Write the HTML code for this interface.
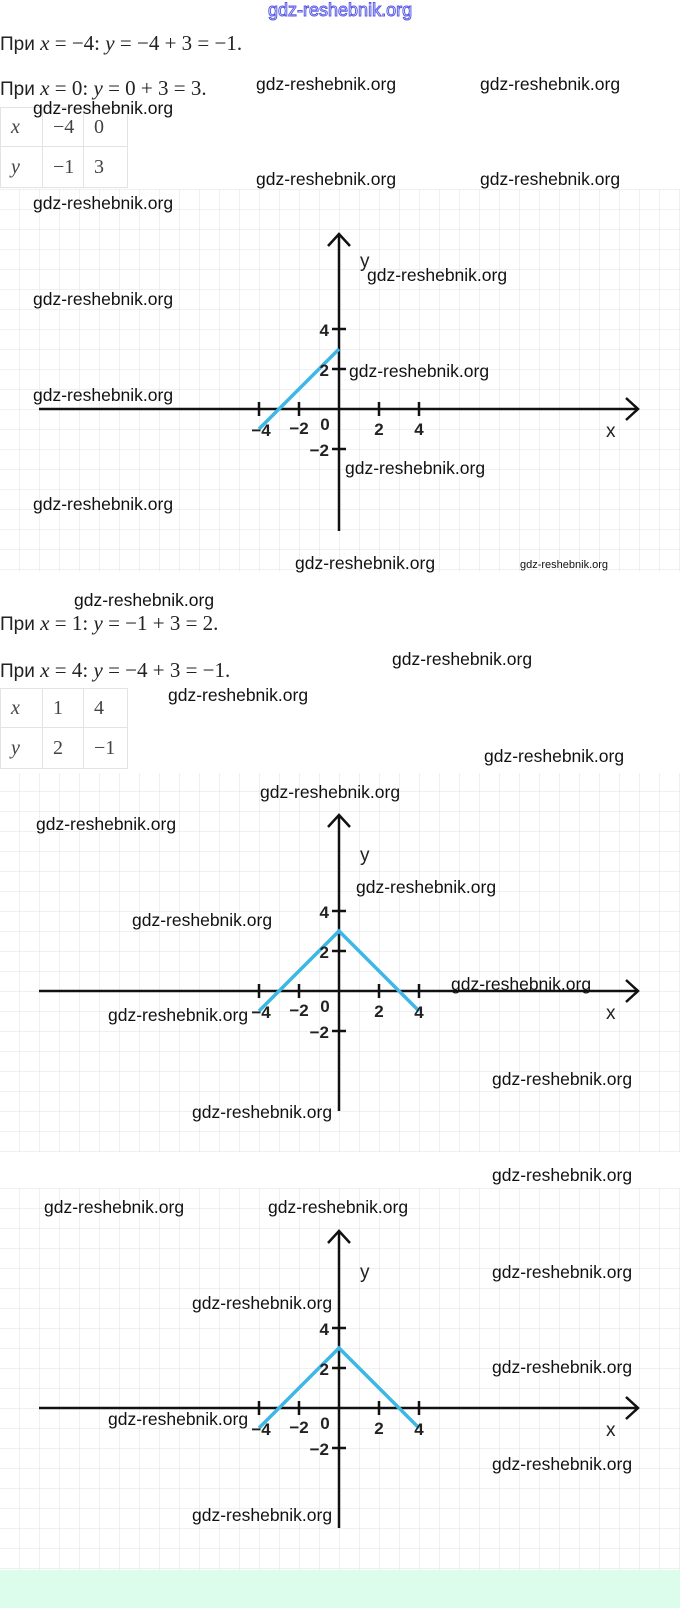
<!DOCTYPE html>
<html><head><meta charset="utf-8"><style>
html,body{margin:0;padding:0;background:#fff;}
body{width:680px;height:1608px;position:relative;overflow:hidden;font-family:"Liberation Sans",sans-serif;}
.t{position:absolute;left:0;font-size:19px;color:#222;white-space:nowrap;line-height:22px;}
.t i{font-family:"Liberation Serif",serif;font-size:21px;}
.t .m{font-family:"Liberation Serif",serif;font-size:21px;}
.w{position:absolute;font-size:17.5px;color:#111;white-space:nowrap;line-height:20px;}
table{position:absolute;left:0;border-collapse:collapse;font-family:"Liberation Serif",serif;font-size:20px;color:#444;}
td{border:1px solid #e3e3e3;height:39px;padding:0 0 0 10px;box-sizing:border-box;}
</style></head><body>
<svg width="680" height="1608" style="position:absolute;left:0;top:0">
<defs>
<pattern id="g1" width="20" height="20" patternUnits="userSpaceOnUse" x="19" y="9"><path d="M0 0H20M0 0V20" stroke="#e6e6e6" stroke-width="1.2" fill="none"/></pattern>
<pattern id="g2" width="20" height="20" patternUnits="userSpaceOnUse" x="19" y="11"><path d="M0 0H20M0 0V20" stroke="#e6e6e6" stroke-width="1.2" fill="none"/></pattern>
<pattern id="g3" width="20" height="20" patternUnits="userSpaceOnUse" x="19" y="8"><path d="M0 0H20M0 0V20" stroke="#e6e6e6" stroke-width="1.2" fill="none"/></pattern>
</defs>
<rect x="0" y="189" width="680" height="383" fill="url(#g1)"/>
<rect x="0" y="773" width="680" height="379" fill="url(#g2)"/>
<rect x="0" y="1188" width="680" height="382" fill="url(#g3)"/>
<rect x="0" y="1570" width="680" height="38" fill="#dcfdec"/>

<!-- graph 1 -->
<g transform="translate(339,409)" stroke="#111" stroke-width="2.5" fill="none">
<path d="M-300 0H299M287 -11L299 0L287 11"/>
<path d="M0 122V-175M-11 -163L0 -175L11 -163"/>
<path d="M-80 -7V7M-40 -7V7M40 -7V7M80 -7V7M-7 -80H7M-7 -40H7M-7 40H7"/>
<path d="M-80 20L0 -60" stroke="#3db7e6" stroke-width="3.5"/>
</g>
<g transform="translate(339,409)" font-family="Liberation Sans,sans-serif" font-weight="bold" font-size="17" fill="#222">
<text x="-78" y="27" text-anchor="middle">−4</text><text x="-40" y="25" text-anchor="middle">−2</text>
<text x="-14" y="21" text-anchor="middle">0</text><text x="40" y="26" text-anchor="middle">2</text><text x="80" y="26" text-anchor="middle">4</text>
<text x="-10" y="-73" text-anchor="end">4</text><text x="-10" y="-33" text-anchor="end">2</text><text x="-10" y="47" text-anchor="end">−2</text>
<text x="267" y="28" font-weight="normal" font-size="19">x</text><text x="21" y="-142" font-weight="normal" font-size="19">y</text>
</g>

<!-- graph 2 -->
<g transform="translate(339,991)" stroke="#111" stroke-width="2.5" fill="none">
<path d="M-300 0H299M287 -11L299 0L287 11"/>
<path d="M0 120V-176M-11 -164L0 -176L11 -164"/>
<path d="M-80 -7V7M-40 -7V7M40 -7V7M80 -7V7M-7 -80H7M-7 -40H7M-7 40H7"/>
<path d="M-80 20L0 -60L80 20" stroke="#3db7e6" stroke-width="3.5"/>
</g>
<g transform="translate(339,991)" font-family="Liberation Sans,sans-serif" font-weight="bold" font-size="17" fill="#222">
<text x="-78" y="27" text-anchor="middle">−4</text><text x="-40" y="25" text-anchor="middle">−2</text>
<text x="-14" y="21" text-anchor="middle">0</text><text x="40" y="26" text-anchor="middle">2</text><text x="80" y="27" text-anchor="middle">4</text>
<text x="-10" y="-73" text-anchor="end">4</text><text x="-10" y="-33" text-anchor="end">2</text><text x="-10" y="47" text-anchor="end">−2</text>
<text x="267" y="28" font-weight="normal" font-size="19">x</text><text x="21" y="-130" font-weight="normal" font-size="19">y</text>
</g>

<!-- graph 3 -->
<g transform="translate(339,1408)" stroke="#111" stroke-width="2.5" fill="none">
<path d="M-300 0H299M287 -11L299 0L287 11"/>
<path d="M0 120V-177M-11 -165L0 -177L11 -165"/>
<path d="M-80 -7V7M-40 -7V7M40 -7V7M80 -7V7M-7 -80H7M-7 -40H7M-7 40H7"/>
<path d="M-80 20L0 -60L80 20" stroke="#3db7e6" stroke-width="3.5"/>
</g>
<g transform="translate(339,1408)" font-family="Liberation Sans,sans-serif" font-weight="bold" font-size="17" fill="#222">
<text x="-78" y="27" text-anchor="middle">−4</text><text x="-40" y="25" text-anchor="middle">−2</text>
<text x="-14" y="21" text-anchor="middle">0</text><text x="40" y="26" text-anchor="middle">2</text><text x="80" y="27" text-anchor="middle">4</text>
<text x="-10" y="-73" text-anchor="end">4</text><text x="-10" y="-33" text-anchor="end">2</text><text x="-10" y="47" text-anchor="end">−2</text>
<text x="267" y="28" font-weight="normal" font-size="19">x</text><text x="21" y="-130" font-weight="normal" font-size="19">y</text>
</g>
</svg>

<div class="t" style="top:32px">При <i>x</i> <span class="m">= −4:</span> <i>y</i> <span class="m">= −4 + 3 = −1.</span></div>
<div class="t" style="top:77px">При <i>x</i> <span class="m">= 0:</span> <i>y</i> <span class="m">= 0 + 3 = 3.</span></div>
<table style="top:107px"><tr><td style="width:42px"><i>x</i></td><td style="width:41px">−4</td><td style="width:44px">0</td></tr>
<tr><td style="height:41px"><i>y</i></td><td>−1</td><td>3</td></tr></table>

<div class="t" style="top:612px">При <i>x</i> <span class="m">= 1:</span> <i>y</i> <span class="m">= −1 + 3 = 2.</span></div>
<div class="t" style="top:659px">При <i>x</i> <span class="m">= 4:</span> <i>y</i> <span class="m">= −4 + 3 = −1.</span></div>
<table style="top:688px"><tr><td style="width:42px"><i>x</i></td><td style="width:41px">1</td><td style="width:44px">4</td></tr>
<tr><td style="height:41px"><i>y</i></td><td>2</td><td>−1</td></tr></table>

<div class="w" style="left:268px;top:0px;color:#fff;-webkit-text-stroke:1px #5a5ae6;font-size:18px">gdz-reshebnik.org</div>
<div class="w" style="left:256px;top:74px">gdz-reshebnik.org</div>
<div class="w" style="left:480px;top:74px">gdz-reshebnik.org</div>
<div class="w" style="left:33px;top:98px">gdz-reshebnik.org</div>
<div class="w" style="left:256px;top:169px">gdz-reshebnik.org</div>
<div class="w" style="left:480px;top:169px">gdz-reshebnik.org</div>
<div class="w" style="left:33px;top:193px">gdz-reshebnik.org</div>
<div class="w" style="left:367px;top:265px">gdz-reshebnik.org</div>
<div class="w" style="left:33px;top:289px">gdz-reshebnik.org</div>
<div class="w" style="left:349px;top:361px">gdz-reshebnik.org</div>
<div class="w" style="left:33px;top:385px">gdz-reshebnik.org</div>
<div class="w" style="left:345px;top:458px">gdz-reshebnik.org</div>
<div class="w" style="left:33px;top:494px">gdz-reshebnik.org</div>
<div class="w" style="left:295px;top:553px">gdz-reshebnik.org</div>
<div class="w" style="left:520px;top:555px;font-size:11px">gdz-reshebnik.org</div>
<div class="w" style="left:74px;top:590px">gdz-reshebnik.org</div>
<div class="w" style="left:392px;top:649px">gdz-reshebnik.org</div>
<div class="w" style="left:168px;top:685px">gdz-reshebnik.org</div>
<div class="w" style="left:484px;top:746px">gdz-reshebnik.org</div>
<div class="w" style="left:260px;top:782px">gdz-reshebnik.org</div>
<div class="w" style="left:36px;top:814px">gdz-reshebnik.org</div>
<div class="w" style="left:356px;top:877px">gdz-reshebnik.org</div>
<div class="w" style="left:132px;top:910px">gdz-reshebnik.org</div>
<div class="w" style="left:451px;top:974px">gdz-reshebnik.org</div>
<div class="w" style="left:108px;top:1005px">gdz-reshebnik.org</div>
<div class="w" style="left:492px;top:1069px">gdz-reshebnik.org</div>
<div class="w" style="left:192px;top:1102px">gdz-reshebnik.org</div>
<div class="w" style="left:492px;top:1165px">gdz-reshebnik.org</div>
<div class="w" style="left:44px;top:1197px">gdz-reshebnik.org</div>
<div class="w" style="left:268px;top:1197px">gdz-reshebnik.org</div>
<div class="w" style="left:492px;top:1262px">gdz-reshebnik.org</div>
<div class="w" style="left:192px;top:1293px">gdz-reshebnik.org</div>
<div class="w" style="left:492px;top:1357px">gdz-reshebnik.org</div>
<div class="w" style="left:108px;top:1409px">gdz-reshebnik.org</div>
<div class="w" style="left:492px;top:1454px">gdz-reshebnik.org</div>
<div class="w" style="left:192px;top:1505px">gdz-reshebnik.org</div>
</body></html>
